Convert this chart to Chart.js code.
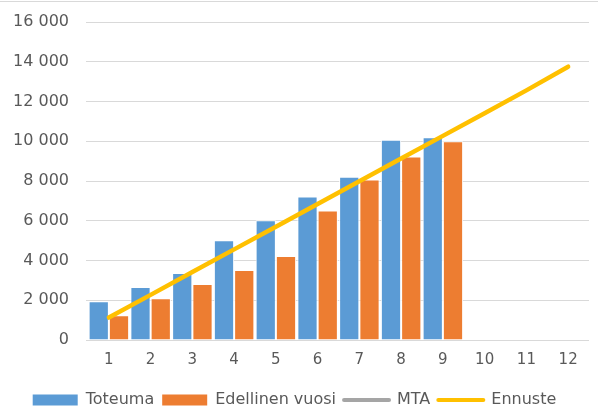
<!DOCTYPE html>
<html>
<head>
<meta charset="utf-8">
<script src="https://cdn.jsdelivr.net/npm/chart.js@4/dist/chart.umd.min.js"></script>
<style>
  body { margin: 0; background: #fff; }
  #wrap { position: relative; width: 598px; height: 410px; }
  #topline { position: absolute; left: 0; top: 1px; width: 598px; height: 1px; background: #d9d9d9; }
</style>
</head>
<body>
<div id="wrap">
  <div id="topline"></div>
  <canvas id="myChart" width="598" height="410"></canvas>
</div>
<script>
const months = ['1', '2', '3', '4', '5', '6', '7', '8', '9', '10', '11', '12'];
const toteuma = [1950, 2670, 3370, 5020, 6020, 7220, 8220, 10080, 10200, null, null, null];
const edellinen = [1250, 2100, 2820, 3520, 4230, 6520, 8080, 9230, 10000, null, null, null];
const mta = [null, null, null, null, null, null, null, null, null, null, null, null];
const ennuste = [1130, 2270, 3420, 4560, 5700, 6840, 7990, 9130, 10270, 11410, 12560, 13750];

const textColor = '#595959';
const fontFamily = '"DejaVu Sans", sans-serif';

const fmt = (v) => String(v).replace(/\B(?=(\d{3})+(?!\d))/g, ' ');

// legend: make its box a bit taller, then push it down toward the bottom edge
const legendShift = {
	id: 'legendShift',
	beforeInit(chart) {
		const fit = chart.legend.fit;
		chart.legend.fit = function () {
			fit.bind(chart.legend)();
			this.height += 4;
		};
	},
	afterLayout(chart) {
		chart.legend.top += 12;
		chart.legend.bottom += 12;
	}
};

const ctx = document.getElementById('myChart').getContext('2d');
const myChart = new Chart(ctx, {
	type: 'bar',
	data: {
		labels: months,
		datasets: [{
			label: 'Toteuma',
			data: toteuma,
			backgroundColor: '#5B9BD5',
			borderColor: '#ffffff',
			borderWidth: 1,
			order: 2
		}, {
			label: 'Edellinen vuosi',
			data: edellinen,
			backgroundColor: '#ED7D31',
			borderColor: '#ffffff',
			borderWidth: 1,
			order: 2
		}, {
			type: 'line',
			label: 'MTA',
			data: mta,
			borderColor: '#A5A5A5',
			backgroundColor: '#A5A5A5',
			borderWidth: 4,
			borderCapStyle: 'round',
			pointRadius: 0,
			order: 1
		}, {
			type: 'line',
			label: 'Ennuste',
			data: ennuste,
			borderColor: '#FFC000',
			backgroundColor: '#FFC000',
			borderWidth: 4.5,
			borderCapStyle: 'round',
			pointRadius: 0,
			order: 0
		}]
	},
	options: {
		responsive: false,
		animation: false,
		layout: { padding: { top: 22, right: 9, left: 0, bottom: 0 } },
		datasets: {
			bar: { categoryPercentage: 0.97, barPercentage: 1.0 }
		},
		scales: {
			x: {
				grid: { display: false },
				border: { display: false },
				ticks: { color: textColor, font: { family: fontFamily, size: 15 }, padding: 3 }
			},
			y: {
				min: 0,
				max: 16000,
				grid: { color: '#d9d9d9', lineWidth: 1, drawTicks: true, tickLength: 2 },
				border: { display: false },
				afterFit: (s) => { s.width = 88; },
				ticks: {
					stepSize: 2000,
					color: textColor,
					padding: 17,
					font: { family: fontFamily, size: 16, lineHeight: 0.5 },
					callback: (v) => fmt(v)
				}
			}
		},
		plugins: {
			tooltip: { enabled: false },
			legend: {
				position: 'bottom',
				labels: {
					color: textColor,
					font: { family: fontFamily, size: 16 },
					usePointStyle: true,
					pointStyleWidth: 45,
					boxHeight: 11,
					padding: 8,
					sort: (a, b) => a.datasetIndex - b.datasetIndex,
					generateLabels: (chart) => {
						const items = Chart.defaults.plugins.legend.labels.generateLabels(chart);
						items.forEach((it) => {
							const ds = chart.data.datasets[it.datasetIndex];
							if (ds.type === 'line') {
								it.pointStyle = 'line';
								it.strokeStyle = ds.borderColor;
								it.lineWidth = 4;
								it.lineCap = 'round';
							} else {
								it.pointStyle = 'rect';
								it.lineWidth = 0;
								it.strokeStyle = ds.backgroundColor;
							}
						});
						return items;
					}
				}
			}
		}
	},
	plugins: [legendShift]
});
</script>
</body>
</html>
